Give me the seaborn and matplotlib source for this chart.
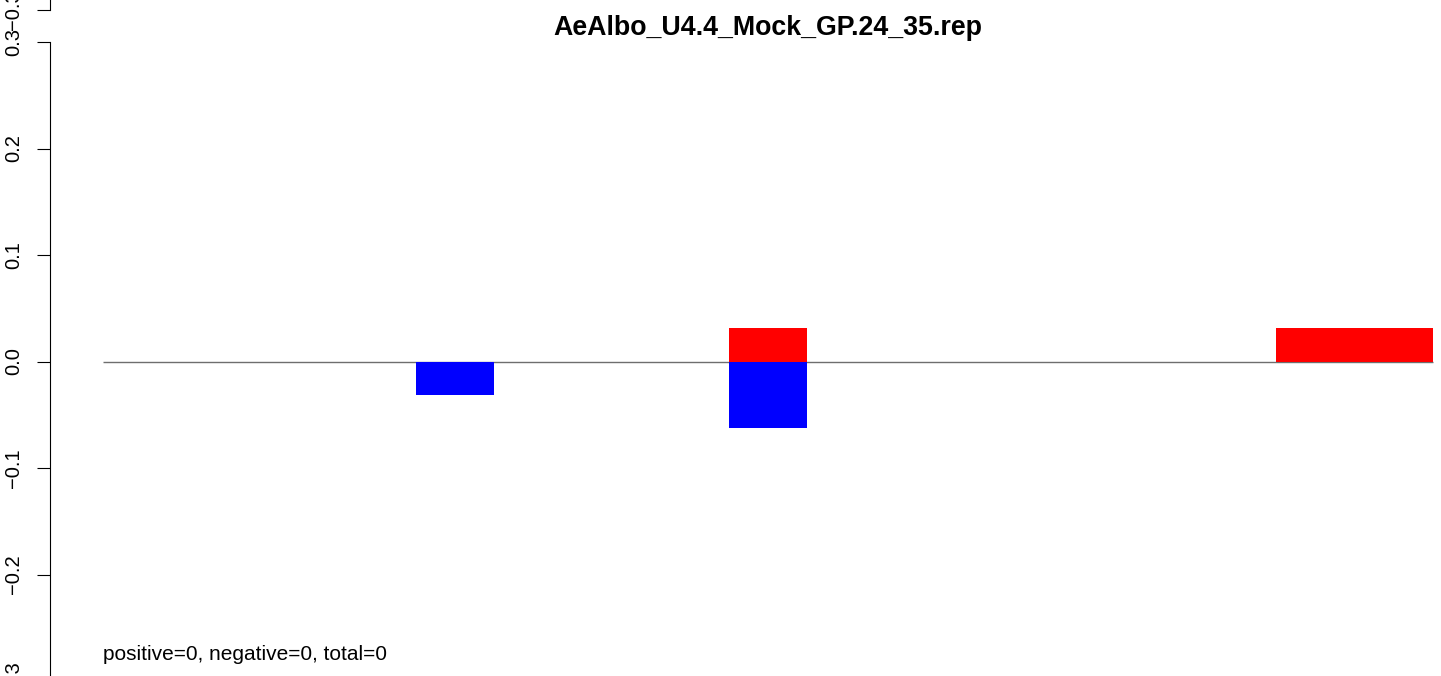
"""
Read-length strand bias bar chart (positive / negative reads per slot).
"""

import matplotlib
matplotlib.use("Agg")
import matplotlib.pyplot as plt
import seaborn as sns
import pandas as pd

sns.set_style("ticks")
plt.rcParams["font.family"] = ["Liberation Sans", "DejaVu Sans"]
plt.rcParams["text.color"] = "black"
plt.rcParams["axes.edgecolor"] = "black"
plt.rcParams["ytick.color"] = "black"
plt.rcParams["ytick.labelcolor"] = "black"

# Data
slots = list(range(17))
positive = [0, 0, 0, 0, 0, 0, 0, 0, 0.03125, 0, 0, 0, 0, 0, 0, 0.03125, 0.03125]
negative = [0, 0, 0, 0, -0.03125, 0, 0, 0, -0.0625, 0, 0, 0, 0, 0, 0, 0, 0]
yticks = [-0.3, -0.2, -0.1, 0.0, 0.1, 0.2, 0.3]
title = "AeAlbo_U4.4_Mock_GP.24_35.rep"
note = "positive=0, negative=0, total=0"

df = pd.DataFrame({"slot": slots, "positive": positive, "negative": negative})

W, H = 1441, 676
fig = plt.figure(figsize=(W / 100, H / 100), dpi=100)

# Main panel: axis line at x=50px, 0.3 at y=42px, -0.3 at y=681px
left_px, top_px, bot_px = 50, 42, 681
ax = fig.add_axes([left_px / W, 1 - bot_px / H, (W - left_px) / W, (bot_px - top_px) / H])

slot_w = 78.2
x0_px = 103.3
xmin = (left_px - x0_px) / slot_w - 0.5
xmax = (W - x0_px) / slot_w - 0.5


def style_yaxis(a):
    a.set_xlim(xmin, xmax)
    a.set_ylim(-0.3, 0.3)
    a.set_xticks([])
    a.set_xlabel("")
    a.set_ylabel("")
    a.set_yticks(yticks)
    a.set_yticklabels([f"{v:.1f}".replace("-", "\u2212") for v in yticks])
    a.tick_params(axis="y", labelrotation=90, length=9.5, width=0.8,
                  pad=10, labelsize=14.5, color="black", labelcolor="black")
    for lab in a.get_yticklabels():
        lab.set_va("center")
    sns.despine(ax=a, bottom=True)
    a.spines["left"].set_bounds(-0.3, 0.3)
    a.spines["left"].set_linewidth(0.8)
    a.spines["left"].set_color("black")


ax.hlines(0, -0.5, 16.5, color="#6e6e6e", linewidth=1.0, zorder=1)
sns.barplot(data=df, x="slot", y="positive", color="#ff0000", width=1,
            saturation=1, linewidth=0, ax=ax, zorder=2)
sns.barplot(data=df, x="slot", y="negative", color="#0000ff", width=1,
            saturation=1, linewidth=0, ax=ax, zorder=2)
style_yaxis(ax)

ax.text(-0.5, -0.2803, note, ha="left", va="baseline", fontsize=15, color="black")

# Fragment of the panel above: its -0.3 tick sits at y=10px
up_bot_px = 10
ax_up = fig.add_axes([left_px / W, 1 - up_bot_px / H, (W - left_px) / W, (bot_px - top_px) / H])
ax_up.patch.set_alpha(0)
style_yaxis(ax_up)

fig.text(767.5 / W, 1 - 35 / H, title, ha="center", va="baseline",
         fontsize=19.3, fontweight="bold", color="black")

fig.savefig("out.png", dpi=100, facecolor="white")
